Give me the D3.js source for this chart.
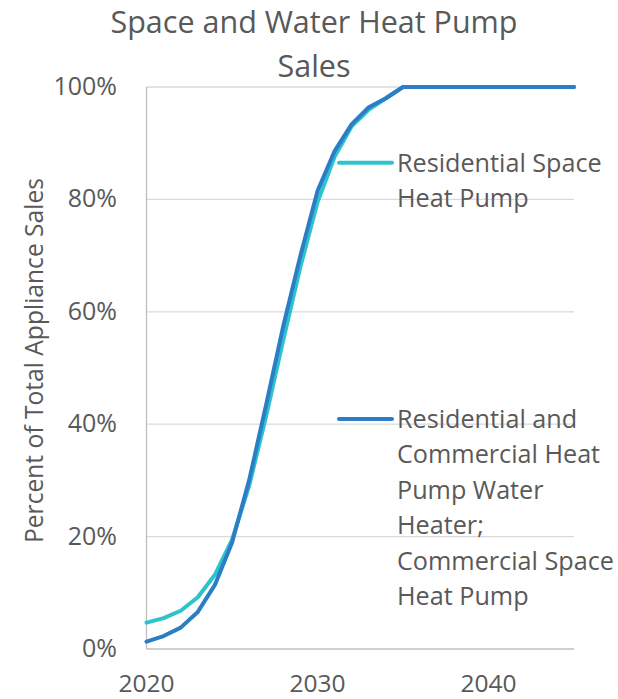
<!DOCTYPE html>
<html>
<head>
<meta charset="utf-8">
<script src="https://cdn.jsdelivr.net/npm/d3@7"></script>
<style>
  html, body { margin: 0; padding: 0; background: #ffffff; }
  svg { display: block; }
  text { font-family: "Open Sans", sans-serif; fill: #595959; }
</style>
</head>
<body>
<svg id="chart" width="618" height="699"></svg>
<script>
const titleLines = ["Space and Water Heat Pump", "Sales"];
const yAxisTitle = "Percent of Total Appliance Sales";
const years = [2020,2021,2022,2023,2024,2025,2026,2027,2028,2029,2030,2031,2032,2033,2034,2035,2036,2037,2038,2039,2040,2041,2042,2043,2044,2045];
const residentialSpace = [0.047,0.055,0.068,0.092,0.132,0.194,0.290,0.415,0.550,0.680,0.795,0.876,0.930,0.960,0.980,1,1,1,1,1,1,1,1,1,1,1];
const waterAndCommercial = [0.013,0.023,0.038,0.066,0.114,0.189,0.300,0.435,0.575,0.700,0.815,0.886,0.934,0.964,0.980,1,1,1,1,1,1,1,1,1,1,1];
const seriesNames = ["Residential Space Heat Pump", "Residential and Commercial Heat Pump Water Heater; Commercial Space Heat Pump"];
const legendLines = [["Residential Space", "Heat Pump"], ["Residential and", "Commercial Heat", "Pump Water", "Heater;", "Commercial Space", "Heat Pump"]];
const yTicks = [0, 0.2, 0.4, 0.6, 0.8, 1.0];
const xTicks = [2020, 2030, 2040];
const colors = ["#2DC3CC", "#2B7EC6"];

const svg = d3.select("#chart");
const x = d3.scaleLinear().domain([2020, 2045]).range([146.5, 574]);
const y = d3.scaleLinear().domain([0, 1]).range([649, 87]);

// gridlines
svg.append("g").selectAll("line").data(yTicks.filter(d => d > 0)).join("line")
  .attr("x1", x(2020)).attr("x2", x(2045))
  .attr("y1", d => y(d)).attr("y2", d => y(d))
  .attr("stroke", "#D9D9D9").attr("stroke-width", 1.3);

// axes lines
svg.append("line").attr("x1", x(2020)).attr("x2", x(2020)).attr("y1", y(1)).attr("y2", y(0))
  .attr("stroke", "#BFBFBF").attr("stroke-width", 1.3);
svg.append("line").attr("x1", x(2020)).attr("x2", x(2045)).attr("y1", y(0)).attr("y2", y(0))
  .attr("stroke", "#BFBFBF").attr("stroke-width", 1.3);

// y tick labels
const fmt = d3.format(".0%");
svg.append("g").selectAll("text").data(yTicks).join("text")
  .attr("x", 117).attr("y", d => y(d)).attr("dy", "0.32em")
  .attr("text-anchor", "end").attr("font-size", 25)
  .text(d => fmt(d));

// x tick labels
svg.append("g").selectAll("text").data(xTicks).join("text")
  .attr("x", d => x(d)).attr("y", y(0) + 43)
  .attr("text-anchor", "middle").attr("font-size", 24.5)
  .text(d => d);

// y axis title
svg.append("text")
  .attr("transform", "translate(43,360.5) rotate(-90)")
  .attr("text-anchor", "middle").attr("font-size", 24.6)
  .text(yAxisTitle);

// title
svg.append("g").selectAll("text").data(titleLines).join("text")
  .attr("x", 314).attr("y", (d, i) => 33 + i * 44)
  .attr("text-anchor", "middle").attr("font-size", 30.5)
  .text(d => d);

// lines
const line = d3.line().x((d, i) => x(years[i])).y(d => y(d));
[residentialSpace, waterAndCommercial].forEach((s, k) => {
  svg.append("path").datum(s)
    .attr("d", line)
    .attr("fill", "none")
    .attr("stroke", colors[k])
    .attr("stroke-width", 4)
    .attr("stroke-linejoin", "round")
    .attr("stroke-linecap", "round");
});

// legend
const legendY = [162.7, 419];
legendLines.forEach((lines, k) => {
  const g = svg.append("g").attr("class", "legend-item").attr("data-name", seriesNames[k]);
  g.append("line").attr("x1", 339).attr("x2", 392)
    .attr("y1", legendY[k]).attr("y2", legendY[k])
    .attr("stroke", colors[k]).attr("stroke-width", 4).attr("stroke-linecap", "round");
  g.selectAll("text").data(lines).join("text")
    .attr("x", 397).attr("y", (d, i) => legendY[k] + i * 35.5)
    .attr("dy", "0.35em").attr("font-size", 25.2)
    .text(d => d);
});
</script>
</body>
</html>
